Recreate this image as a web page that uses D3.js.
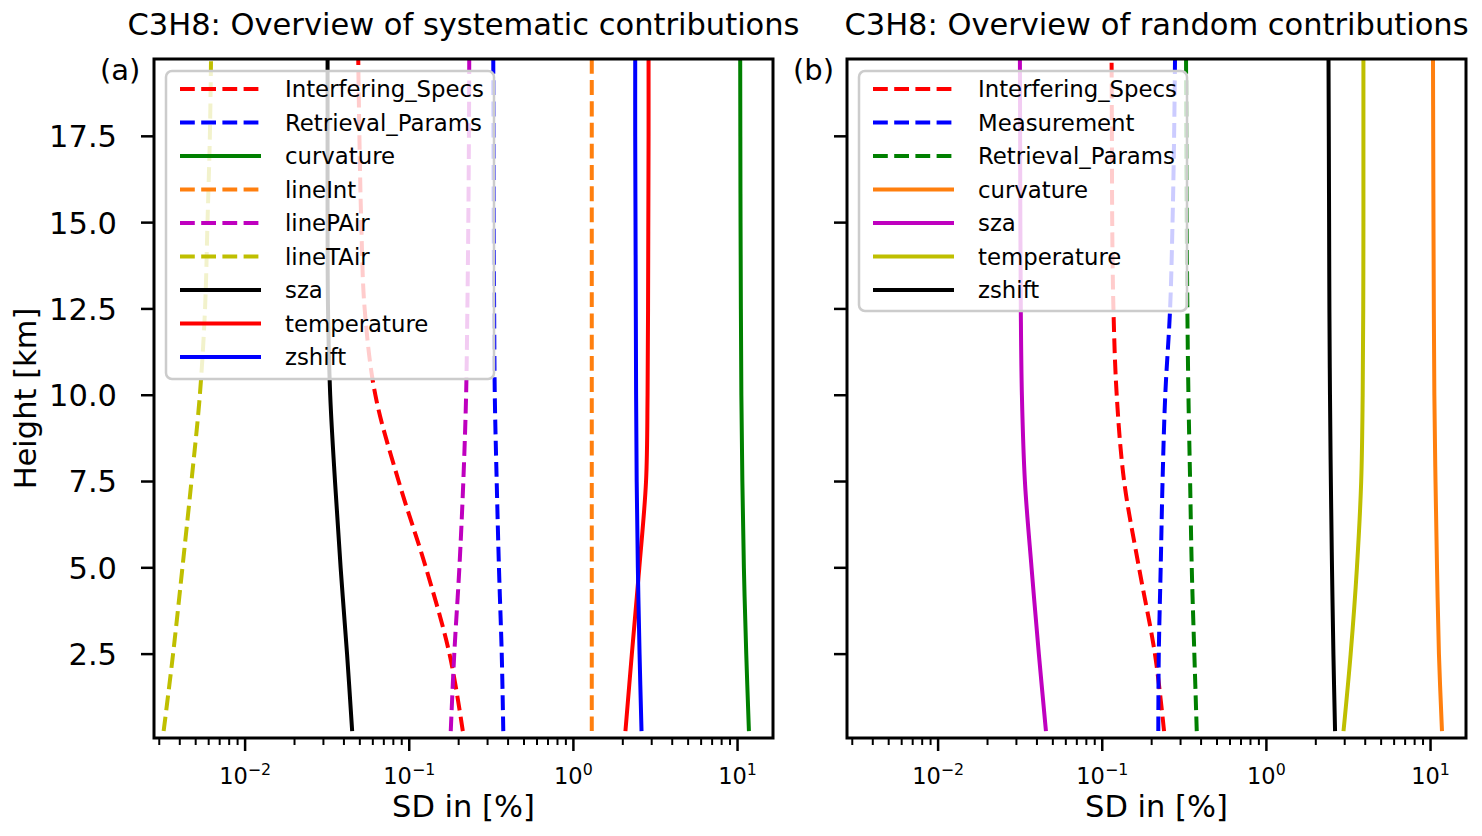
<!DOCTYPE html>
<html>
<head>
<meta charset="utf-8">
<script src="https://cdn.jsdelivr.net/npm/d3@7"></script>
<style>
  body { margin: 0; background: #fff; }
  svg { font-family: "DejaVu Sans", sans-serif; }
</style>
</head>
<body>
<script>
// heights in km (shared by every profile)
const heights = [0.27, 2.5, 5, 7.5, 10, 12.5, 15, 17.5, 19.74];

// systematic contributions, SD in %
const sysInterferingSpecs = [0.212, 0.176, 0.1264, 0.0863, 0.0622, 0.0535, 0.051, 0.0497, 0.0489];
const sysRetrievalParams = [0.374, 0.366, 0.352, 0.341, 0.332, 0.329, 0.327, 0.326, 0.325];
const sysCurvature = [11.73, 11.3, 10.93, 10.7, 10.55, 10.48, 10.43, 10.40, 10.38];
const sysLineInt = [1.294, 1.294, 1.294, 1.294, 1.294, 1.294, 1.294, 1.294, 1.294];
const sysLinePAir = [0.179, 0.188, 0.202, 0.2135, 0.222, 0.226, 0.229, 0.231, 0.232];
const sysLineTAir = [0.00319, 0.00364, 0.00415, 0.00471, 0.0053, 0.0057, 0.0059, 0.0061, 0.0062];
const sysSza = [0.0449, 0.0418, 0.0382, 0.0353, 0.0330, 0.0320, 0.0318, 0.0318, 0.0318];
const sysTemperature = [2.075, 2.27, 2.52, 2.77, 2.83, 2.85, 2.86, 2.87, 2.87];
const sysZshift = [2.60, 2.53, 2.47, 2.43, 2.41, 2.40, 2.39, 2.38, 2.38];

// random contributions, SD in %
const rndInterferingSpecs = [0.238, 0.2095, 0.1675, 0.136, 0.1225, 0.117, 0.115, 0.1145, 0.114];
const rndMeasurement = [0.2195, 0.221, 0.227, 0.233, 0.242, 0.259, 0.268, 0.274, 0.2775];
const rndRetrievalParams = [0.3765, 0.364, 0.351, 0.343, 0.335, 0.330, 0.327, 0.325, 0.324];
const rndCurvature = [11.74, 11.25, 10.95, 10.72, 10.55, 10.47, 10.42, 10.38, 10.35];
const rndSza = [0.0454, 0.0411, 0.0371, 0.0338, 0.0324, 0.0319, 0.0317, 0.0316, 0.0315];
const rndTemperature = [2.95, 3.26, 3.56, 3.78, 3.86, 3.89, 3.90, 3.90, 3.90];
const rndZshift = [2.62, 2.56, 2.51, 2.47, 2.44, 2.42, 2.41, 2.40, 2.39];

const yTicks = [2.5, 5.0, 7.5, 10.0, 12.5, 15.0, 17.5];
const xMajorExp = [-2, -1, 0, 1];

const panels = [
  {
    title: "C3H8: Overview of systematic contributions", tag: "(a)", left: 154, legendH: 308,
    series: [
      {name: "Interfering_Specs", values: sysInterferingSpecs, color: "#ff0000", dash: true},
      {name: "Retrieval_Params", values: sysRetrievalParams, color: "#0000ff", dash: true},
      {name: "curvature", values: sysCurvature, color: "#008000", dash: false},
      {name: "lineInt", values: sysLineInt, color: "#ff7f0e", dash: true},
      {name: "linePAir", values: sysLinePAir, color: "#bf00bf", dash: true},
      {name: "lineTAir", values: sysLineTAir, color: "#bfbf00", dash: true},
      {name: "sza", values: sysSza, color: "#000000", dash: false},
      {name: "temperature", values: sysTemperature, color: "#ff0000", dash: false},
      {name: "zshift", values: sysZshift, color: "#0000ff", dash: false}
    ]
  },
  {
    title: "C3H8: Overview of random contributions", tag: "(b)", left: 847, legendH: 240,
    series: [
      {name: "Interfering_Specs", values: rndInterferingSpecs, color: "#ff0000", dash: true},
      {name: "Measurement", values: rndMeasurement, color: "#0000ff", dash: true},
      {name: "Retrieval_Params", values: rndRetrievalParams, color: "#008000", dash: true},
      {name: "curvature", values: rndCurvature, color: "#ff7f0e", dash: false},
      {name: "sza", values: rndSza, color: "#bf00bf", dash: false},
      {name: "temperature", values: rndTemperature, color: "#bfbf00", dash: false},
      {name: "zshift", values: rndZshift, color: "#000000", dash: false}
    ]
  }
];

const width = 1482, height = 836;
const plotTop = 59, plotH = 679, plotW = 619;

const svg = d3.select("body").append("svg")
    .attr("width", width)
    .attr("height", height);

const y = d3.scaleLinear()
    .domain([0.07, 19.74])
    .range([plotTop + plotH, plotTop]);

const dashPattern = "14.8,6.4";

panels.forEach((p, pi) => {
  const x = d3.scaleLog()
      .domain([Math.pow(10, -2.555), Math.pow(10, 1.216)])
      .range([0, plotW]);

  const g = svg.append("g").attr("transform", `translate(${p.left},0)`);

  g.append("clipPath").attr("id", "clip" + pi)
    .append("rect").attr("x", 0).attr("y", plotTop).attr("width", plotW).attr("height", plotH);

  const line = d3.line()
      .x(d => x(d[1]))
      .y(d => y(d[0]))
      .curve(d3.curveCatmullRom.alpha(0.5));

  const plot = g.append("g").attr("clip-path", `url(#clip${pi})`);
  p.series.forEach(s => {
    plot.append("path")
      .attr("d", line(heights.map((h, i) => [h, s.values[i]])))
      .attr("fill", "none")
      .attr("stroke", s.color)
      .attr("stroke-width", 4)
      .attr("stroke-dasharray", s.dash ? dashPattern : null);
  });

  // x axis ticks (log, major + minor)
  const xb = plotTop + plotH;
  const minor = [];
  for (let e = -3; e <= 1; e++) {
    for (let m = 2; m <= 9; m++) {
      const v = m * Math.pow(10, e);
      if (v >= x.domain()[0] && v <= x.domain()[1]) minor.push(v);
    }
  }
  g.selectAll(".xminor").data(minor).enter().append("line")
    .attr("x1", d => x(d)).attr("x2", d => x(d))
    .attr("y1", xb).attr("y2", xb + 7)
    .attr("stroke", "#000").attr("stroke-width", 2);
  g.selectAll(".xmajor").data(xMajorExp).enter().append("line")
    .attr("x1", d => x(Math.pow(10, d))).attr("x2", d => x(Math.pow(10, d)))
    .attr("y1", xb).attr("y2", xb + 13)
    .attr("stroke", "#000").attr("stroke-width", 2.5);
  const xl = g.selectAll(".xlab").data(xMajorExp).enter().append("text")
    .attr("x", d => x(Math.pow(10, d)))
    .attr("y", 784)
    .attr("text-anchor", "middle")
    .attr("font-size", 22.5);
  xl.append("tspan").text("10");
  xl.append("tspan").attr("dy", -9.5).attr("font-size", 15.8)
    .text(d => d < 0 ? "\u2212" + (-d) : String(d));

  // y axis ticks
  g.selectAll(".ytick").data(yTicks).enter().append("line")
    .attr("x1", -13).attr("x2", 0)
    .attr("y1", d => y(d)).attr("y2", d => y(d))
    .attr("stroke", "#000").attr("stroke-width", 2.5);
  if (pi === 0) {
    g.selectAll(".ylab").data(yTicks).enter().append("text")
      .attr("x", -37).attr("y", d => y(d))
      .attr("dy", "0.36em")
      .attr("text-anchor", "end")
      .attr("font-size", 30.5)
      .text(d => d.toFixed(1));
  }

  // frame
  g.append("rect")
    .attr("x", 0).attr("y", plotTop).attr("width", plotW).attr("height", plotH)
    .attr("fill", "none").attr("stroke", "#000").attr("stroke-width", 3);

  // legend
  const lg = g.append("g").attr("transform", "translate(12,71)");
  lg.append("rect")
    .attr("width", 328).attr("height", p.legendH)
    .attr("rx", 6)
    .attr("fill", "#fff").attr("fill-opacity", 0.8)
    .attr("stroke", "#cccccc").attr("stroke-width", 2.5);
  p.series.forEach((s, i) => {
    const ry = 18 + i * 33.5;
    lg.append("line")
      .attr("x1", 14).attr("x2", 95)
      .attr("y1", ry).attr("y2", ry)
      .attr("stroke", s.color).attr("stroke-width", 4)
      .attr("stroke-dasharray", s.dash ? dashPattern : null);
    lg.append("text")
      .attr("x", 119).attr("y", ry).attr("dy", "0.36em")
      .attr("font-size", 22.8)
      .text(s.name);
  });

  // title, tag, x label
  g.append("text")
    .attr("x", plotW / 2).attr("y", 35)
    .attr("text-anchor", "middle")
    .attr("font-size", 30.5)
    .text(p.title);
  g.append("text")
    .attr("x", -54).attr("y", 80)
    .attr("font-size", 29)
    .text(p.tag);
  g.append("text")
    .attr("x", plotW / 2).attr("y", 817)
    .attr("text-anchor", "middle")
    .attr("font-size", 30.5)
    .text("SD in [%]");
});

svg.append("text")
  .attr("transform", `translate(36,${plotTop + plotH / 2}) rotate(-90)`)
  .attr("text-anchor", "middle")
  .attr("font-size", 30.5)
  .text("Height [km]");
</script>
</body>
</html>
